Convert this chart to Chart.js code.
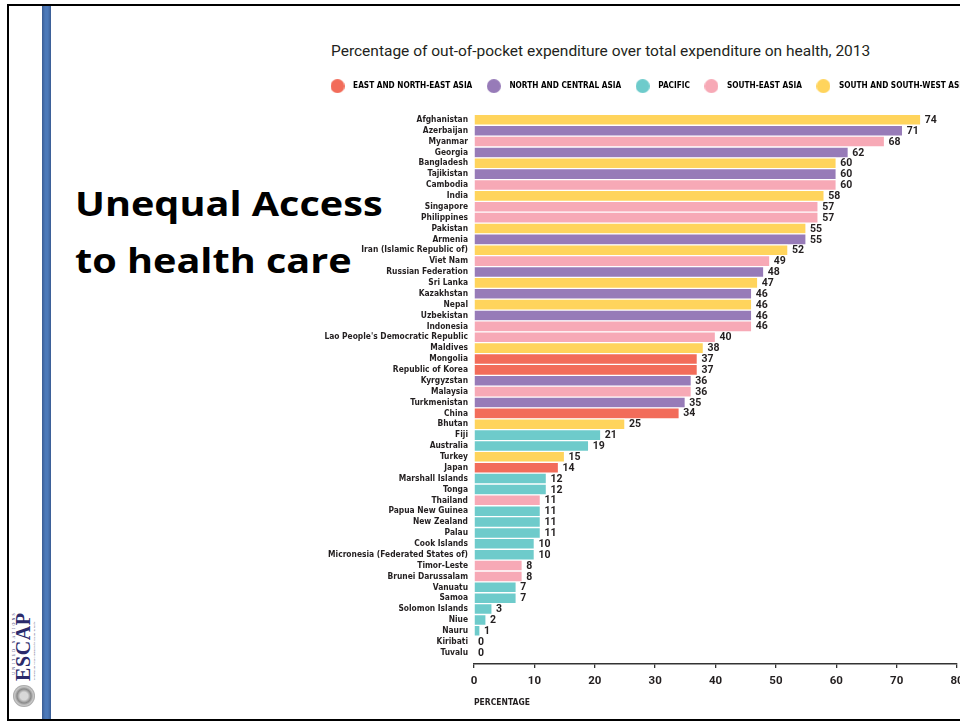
<!DOCTYPE html>
<html>
<head>
<meta charset="utf-8">
<script src="https://cdn.jsdelivr.net/npm/chart.js@4.4.1/dist/chart.umd.min.js"></script>
<style>
  html, body { margin: 0; padding: 0; background: #fff; width: 960px; height: 723px; overflow: hidden; }
  .frame { position: absolute; left: 7px; top: 4px; width: 1100px; height: 717px; border: 2px solid #000; box-sizing: border-box; pointer-events: none; }
  .rule { position: absolute; left: 42px; top: 5px; width: 9px; height: 715px;
          background: linear-gradient(to right, #3a5c93, #4c79b9 35%, #4c79b9 65%, #3a5c93); }
  .heading { position: absolute; left: 75px; top: 175px; font-family: "Open Sans", sans-serif; font-weight: 700;
             font-size: 34px; line-height: 57px; color: #000; transform: scaleX(1.165); transform-origin: left top; white-space: nowrap; }
  .chart-title { position: absolute; left: 331px; top: 41px; font-family: Roboto, sans-serif; font-size: 15.5px;
                 line-height: 20px; color: #231f20; white-space: nowrap; }
  .chart-box { position: absolute; left: 316px; top: 70px; width: 730px; height: 650px; }
  .logo { position: absolute; left: 24px; top: 659px; width: 96px; height: 26px;
          transform: translate(-50%, -50%) rotate(-90deg); }
  .emblem { position: absolute; left: 0; top: 2px; width: 22px; height: 22px; border-radius: 50%;
            background: radial-gradient(circle, #d8d8d8 0 25%, #8a8a8a 45%, #c9c9c9 60%, #7d7d7d 80%, #bbb 100%); }
  .un { position: absolute; right: 0; top: 0; font: 4px "Liberation Serif", serif; letter-spacing: 2.2px; color: #2b2a6b; }
  .escap { position: absolute; left: 26px; top: 3px; font: bold 20px/19px "Liberation Serif", serif; letter-spacing: 0.6px; color: #2b2a6b; }
  .sub { position: absolute; left: 27px; top: 22px; font: 2.5px "Liberation Serif", serif; color: #55557a; white-space: nowrap; }
</style>
</head>
<body>
<div class="rule"></div>
<div class="heading">Unequal Access<br>to health care</div>
<div class="logo">
  <div class="emblem"></div>
  <div class="un">UNITED NATIONS</div>
  <div class="escap">ESCAP</div>
  <div class="sub">Economic and Social Commission for Asia and the Pacific</div>
</div>
<div class="chart-title">Percentage of out-of-pocket expenditure over total expenditure on health, 2013</div>
<div class="chart-box"><canvas id="oopChart" width="730" height="650"></canvas></div>
<div class="frame"></div>

<script>
const countries = [
  "Afghanistan", "Azerbaijan", "Myanmar", "Georgia", "Bangladesh", "Tajikistan", "Cambodia", "India",
  "Singapore", "Philippines", "Pakistan", "Armenia", "Iran (Islamic Republic of)", "Viet Nam",
  "Russian Federation", "Sri Lanka", "Kazakhstan", "Nepal", "Uzbekistan", "Indonesia",
  "Lao People's Democratic Republic", "Maldives", "Mongolia", "Republic of Korea", "Kyrgyzstan",
  "Malaysia", "Turkmenistan", "China", "Bhutan", "Fiji", "Australia", "Turkey", "Japan",
  "Marshall Islands", "Tonga", "Thailand", "Papua New Guinea", "New Zealand", "Palau", "Cook Islands",
  "Micronesia (Federated States of)", "Timor-Leste", "Brunei Darussalam", "Vanuatu", "Samoa",
  "Solomon Islands", "Niue", "Nauru", "Kiribati", "Tuvalu"
];
const values = [
  74, 71, 68, 62, 60, 60, 60, 58, 57, 57, 55, 55, 52, 49, 48, 47, 46, 46, 46, 46,
  40, 38, 37, 37, 36, 36, 35, 34, 25, 21, 19, 15, 14, 12, 12, 11, 11, 11, 11, 10,
  10, 8, 8, 7, 7, 3, 2, 1, 0, 0
];
// region code per country: E = East/North-East, N = North/Central, P = Pacific, S = South-East, W = South/South-West
const regionCodes = [
  "W", "N", "S", "N", "W", "N", "S", "W", "S", "S", "W", "N", "W", "S", "N", "W", "N", "W", "N", "S",
  "S", "W", "E", "E", "N", "S", "N", "E", "W", "P", "P", "W", "E", "P", "P", "S", "P", "P", "P", "P",
  "P", "S", "S", "P", "P", "P", "P", "P", "P", "P"
];
const regionKeys = ["E", "N", "P", "S", "W"];
const regionNames = ["EAST AND NORTH-EAST ASIA", "NORTH AND CENTRAL ASIA", "PACIFIC", "SOUTH-EAST ASIA", "SOUTH AND SOUTH-WEST ASIA"];
const regionColors = ["#f26c5a", "#977bb8", "#6ecbcb", "#f7a9b6", "#ffd45c"];
const xTicks = [0, 10, 20, 30, 40, 50, 60, 70, 80];

const narrow = "'Liberation Sans Narrow', 'DejaVu Sans Condensed', sans-serif";
const ink = "#231f20";

const barColors = regionCodes.map(c => regionColors[regionKeys.indexOf(c)]);

// round swatches for the legend, bigger than the label text
const dots = regionColors.map(col => {
  const c = document.createElement("canvas");
  c.width = 14; c.height = 14;
  const g = c.getContext("2d");
  g.fillStyle = col;
  g.beginPath();
  g.arc(7, 7, 7, 0, Math.PI * 2);
  g.fill();
  return c;
});

// numbers at the end of each bar
const valueLabels = {
  id: "valueLabels",
  afterDatasetsDraw(chart) {
    const ctx = chart.ctx;
    const meta = chart.getDatasetMeta(0);
    ctx.save();
    ctx.font = "bold 10.5px Roboto";
    ctx.fillStyle = ink;
    ctx.textAlign = "left";
    ctx.textBaseline = "middle";
    meta.data.forEach((bar, i) => {
      ctx.fillText(values[i], bar.x + 4, bar.y + 0.5);
    });
    ctx.restore();
  }
};

new Chart(document.getElementById("oopChart"), {
  type: "bar",
  data: {
    labels: countries,
    datasets: [{
      data: values,
      backgroundColor: barColors,
      borderColor: "#ffffff",
      borderWidth: 1,
      barPercentage: 1,
      categoryPercentage: 1
    }]
  },
  options: {
    indexAxis: "y",
    responsive: false,
    animation: false,
    layout: { padding: { top: 2, bottom: 12, left: 0, right: 0 } },
    plugins: {
      tooltip: { enabled: false },
      legend: {
        position: "top",
        align: "start",
        onClick: null,
        labels: {
          usePointStyle: true,
          pointStyleWidth: 23,
          padding: 10,
          color: ink,
          font: { family: narrow, weight: "bold", size: 8.2 },
          generateLabels: () => regionNames.map((name, i) => ({
            text: name,
            fillStyle: regionColors[i],
            strokeStyle: regionColors[i],
            lineWidth: 0,
            pointStyle: dots[i],
            hidden: false,
            index: i
          }))
        }
      }
    },
    scales: {
      y: {
        grid: { display: false, drawTicks: false },
        border: { display: false },
        ticks: { autoSkip: false, padding: 6, color: ink, font: { family: narrow, weight: "bold", size: 8.4 } },
        afterFit(s) { s.width = 158; },
        // leave a little room above the first bar and below the last one
        afterBuildTicks(s) { s._startValue -= 1.3; s._valueRange += 1.85; }
      },
      x: {
        min: 0,
        max: 80,
        grid: { drawOnChartArea: false, drawTicks: true, tickLength: 4, color: "#333", lineWidth: 1.3 },
        border: { display: true, color: "#333", width: 1.5 },
        ticks: { padding: 6, color: ink, maxRotation: 0, font: { family: "Roboto", weight: "bold", size: 11.5 } },
        afterBuildTicks(s) { s.ticks = xTicks.map(v => ({ value: v })); },
        title: {
          display: true, text: "PERCENTAGE", align: "start", color: ink,
          font: { family: narrow, weight: "bold", size: 8.5 }, padding: { top: 4, bottom: 0 }
        }
      },
      pad: {
        position: "right",
        type: "linear",
        grid: { display: false },
        border: { display: false },
        ticks: { display: false },
        afterFit(s) { s.width = 89; }
      }
    }
  },
  plugins: [valueLabels]
});
</script>
</body>
</html>
